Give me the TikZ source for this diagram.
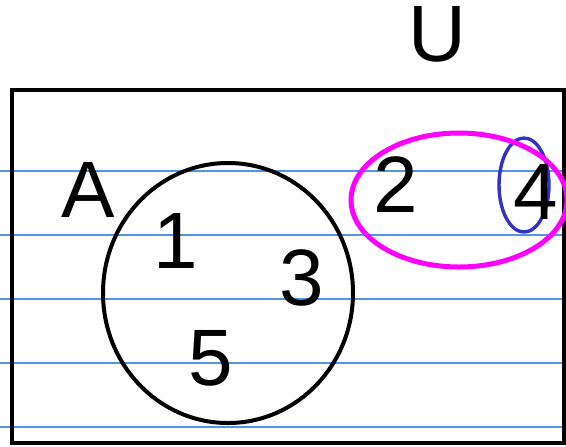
\documentclass[tikz,border=0pt]{standalone}
\usepackage{fontspec}
\setmainfont{Liberation Sans}
\usetikzlibrary{positioning}
\definecolor{ruleblue}{RGB}{80,150,230}
\definecolor{penmagenta}{RGB}{255,0,255}
\definecolor{penblue}{RGB}{50,50,200}

\begin{document}
\begin{tikzpicture}[
  x=0.5pt,y=-0.5pt,
  rule/.style={draw=ruleblue,line width=0.8pt},
  hand/.style={inner sep=0pt,font=\fontsize{40}{40}\selectfont},
  setline/.style={line width=2pt}]
\useasboundingbox (0,0) rectangle (566,446);
% ruled paper
\foreach \y in {171,235,299,363,427}
  \draw[rule] (0,\y) -- (566,\y);
% universe
\draw[setline] (11.5,89.5) rectangle (564,442.5);
\node[hand] (u) at (437,34) {U};
% set A
\draw[setline] (228,293) ellipse [x radius=125,y radius=130];
\node[hand] (a) at (88,190) {A};
\node[hand] (one) at (176,241) {1};
\node[hand] (three) at (302,278) {3};
\node[hand] (five) at (211,358) {5};
% the other sets
\draw[line width=1.7pt,draw=penblue] (524,185) ellipse [x radius=25,y radius=47];
\draw[line width=2.5pt,draw=penmagenta] (459,200) ellipse [x radius=108,y radius=67];
\node[hand] (two) at (396,185) {2};
\node[hand] (four) at (536,192) {4};
\end{tikzpicture}
\end{document}
